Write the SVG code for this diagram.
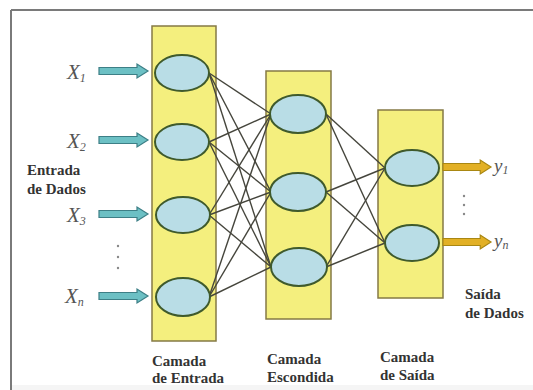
<svg xmlns="http://www.w3.org/2000/svg" width="533" height="390" viewBox="0 0 533 390">
  <defs>
    <style>
      .layer { fill: #f4ef7e; stroke: #857a45; stroke-width: 1.5; }
      .neuron { fill: #b9dde6; stroke: #3f5a2c; stroke-width: 2; }
      .link { stroke: #45453c; stroke-width: 1.4; fill: none; }
      .in-arrow { fill: #6cc0c4; stroke: #3d7f86; stroke-width: 1.2; }
      .out-arrow { fill: #e2b025; stroke: #a98712; stroke-width: 1.2; }
      .var { font-style: italic; fill: #555; }
      .lbl { font-weight: bold; font-size: 15px; fill: #333; }
      .dots { fill: #888; }
    </style>
    <path id="arrowShape" d="M0,-3.5 H38 V-7 L49,0 L38,7 V3.5 H0 Z"/>
  </defs>

  <!-- frame -->
  <rect x="0" y="0" width="533" height="390" fill="#ffffff"/>
  <rect x="12" y="385" width="521" height="5" fill="#f5f5f5"/>
  <line x1="11" y1="10" x2="533" y2="10" stroke="#7a7a7a" stroke-width="2"/>
  <line x1="11" y1="10" x2="11" y2="390" stroke="#7a7a7a" stroke-width="2"/>

  <!-- layer panels -->
  <g id="layer-input"><rect class="layer" x="152" y="26" width="64" height="315"/></g>
  <g id="layer-hidden"><rect class="layer" x="266" y="71" width="65" height="248"/></g>
  <g id="layer-output"><rect class="layer" x="378" y="110" width="65" height="188"/></g>

  <!-- connections -->
  <g id="connectors">
    <g class="link">
      <line x1="209" y1="73" x2="271" y2="114"/>
      <line x1="209" y1="73" x2="271" y2="192"/>
      <line x1="209" y1="73" x2="271" y2="267"/>
      <line x1="209" y1="142" x2="271" y2="114"/>
      <line x1="209" y1="142" x2="271" y2="192"/>
      <line x1="209" y1="142" x2="271" y2="267"/>
      <line x1="209" y1="215" x2="271" y2="114"/>
      <line x1="209" y1="215" x2="271" y2="192"/>
      <line x1="209" y1="215" x2="271" y2="267"/>
      <line x1="209" y1="297" x2="271" y2="114"/>
      <line x1="209" y1="297" x2="271" y2="192"/>
      <line x1="209" y1="297" x2="271" y2="267"/>
      <line x1="326" y1="114" x2="385" y2="168"/>
      <line x1="326" y1="114" x2="385" y2="243"/>
      <line x1="326" y1="192" x2="385" y2="168"/>
      <line x1="326" y1="192" x2="385" y2="243"/>
      <line x1="326" y1="267" x2="385" y2="168"/>
      <line x1="326" y1="267" x2="385" y2="243"/>
    </g>
    <!-- input arrows -->
    <use href="#arrowShape" class="in-arrow" transform="translate(99,71)"/>
    <use href="#arrowShape" class="in-arrow" transform="translate(99,140)"/>
    <use href="#arrowShape" class="in-arrow" transform="translate(99,214)"/>
    <use href="#arrowShape" class="in-arrow" transform="translate(99,296)"/>
    <!-- output arrows -->
    <use href="#arrowShape" class="out-arrow" transform="translate(443,167) scale(0.98,1)"/>
    <use href="#arrowShape" class="out-arrow" transform="translate(443,242) scale(0.98,1)"/>
  </g>

  <!-- input neurons -->
  <g id="in1"><ellipse class="neuron" cx="182" cy="73" rx="27" ry="18"/></g>
  <g id="in2"><ellipse class="neuron" cx="182" cy="142" rx="27" ry="18"/></g>
  <g id="in3"><ellipse class="neuron" cx="183" cy="215" rx="27" ry="18"/></g>
  <g id="in4"><ellipse class="neuron" cx="183" cy="297" rx="27" ry="19"/></g>

  <!-- hidden neurons -->
  <g id="h1"><ellipse class="neuron" cx="298" cy="114" rx="28" ry="19"/></g>
  <g id="h2"><ellipse class="neuron" cx="298" cy="192" rx="28" ry="19"/></g>
  <g id="h3"><ellipse class="neuron" cx="299" cy="267" rx="28" ry="19"/></g>

  <!-- output neurons -->
  <g id="o1"><ellipse class="neuron" cx="412" cy="168" rx="27" ry="18"/></g>
  <g id="o2"><ellipse class="neuron" cx="412" cy="243" rx="27" ry="18"/></g>

  <g font-family="'Liberation Serif', 'Times New Roman', 'DejaVu Serif', serif">
    <!-- input variable labels -->
    <g id="labels-x">
      <text class="var" x="67" y="79" font-size="21">X<tspan font-size="12" dy="3">1</tspan></text>
      <text class="var" x="67" y="148" font-size="21">X<tspan font-size="12" dy="3">2</tspan></text>
      <text class="var" x="67" y="222" font-size="21">X<tspan font-size="12" dy="3">3</tspan></text>
      <text class="var" x="65" y="303" font-size="21">X<tspan font-size="12" dy="3">n</tspan></text>
    </g>

    <!-- output variable labels -->
    <g id="labels-y">
      <text class="var" x="494" y="172" font-size="19">y<tspan font-size="12" dy="2">1</tspan></text>
      <text class="var" x="494" y="247" font-size="19">y<tspan font-size="12" dy="2">n</tspan></text>
    </g>

    <!-- captions -->
    <g id="captions">
      <text class="lbl" x="27" y="175">Entrada</text>
      <text class="lbl" x="27" y="194">de Dados</text>
      <text class="lbl" x="465" y="299">Saída</text>
      <text class="lbl" x="465" y="318">de Dados</text>
      <text class="lbl" x="152" y="366">Camada</text>
      <text class="lbl" x="152" y="383">de Entrada</text>
      <text class="lbl" x="267" y="364">Camada</text>
      <text class="lbl" x="267" y="382">Escondida</text>
      <text class="lbl" x="380" y="362">Camada</text>
      <text class="lbl" x="380" y="380">de Saída</text>
    </g>
  </g>

  <g class="dots">
    <circle cx="118" cy="246" r="1.2"/>
    <circle cx="118" cy="257" r="1.2"/>
    <circle cx="118" cy="268" r="1.2"/>
    <circle cx="464" cy="196" r="1.2"/>
    <circle cx="464" cy="205" r="1.2"/>
    <circle cx="464" cy="214" r="1.2"/>
  </g>
</svg>
